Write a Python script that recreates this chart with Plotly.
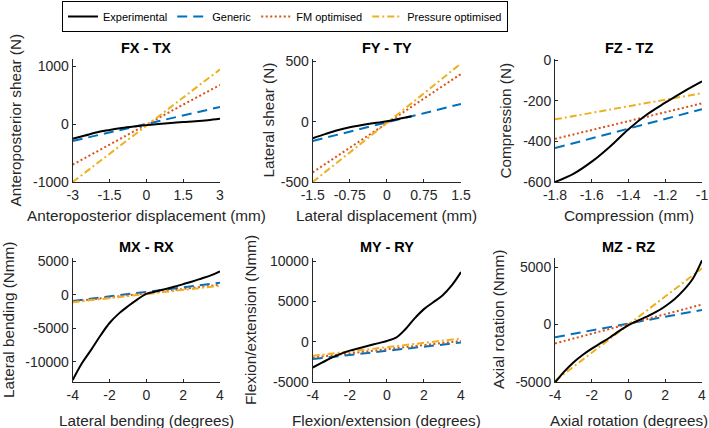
import plotly.graph_objects as go
from plotly.subplots import make_subplots

# --- data ---
fx_x = [-3, -2.5, -2, -1.5, -1, -0.5, 0, 0.5, 1, 1.5, 2, 2.5, 3]
fx_exp = [-250, -195, -140, -100, -65, -38, -15, 5, 22, 38, 52, 70, 95]
fx_lin_x = [-3, -1.5, 0, 1.5, 3]
fx_gen = [-290, -145, 0, 150, 300]
fx_fm = [-700, -350, -10, 340, 680]
fx_pr = [-1000, -510, -20, 470, 950]

fy_x = [-1.5, -1.25, -1, -0.75, -0.5, -0.25, 0, 0.25, 0.5]
fy_exp = [-137, -103, -71, -46, -27, -11, 3, 25, 45]
fy_lin_x = [-1.5, -0.75, 0, 0.75, 1.5]
fy_gen = [-160, -80, -5, 70, 148]
fy_fm = [-420, -215, -10, 195, 396]
fy_pr = [-500, -255, -15, 235, 483]

fz_x = [-1.8, -1.7, -1.6, -1.5, -1.4, -1.3, -1.2, -1.1, -1.0]
fz_exp = [-600, -560, -500, -425, -340, -268, -210, -155, -105]
fz_lin_x = [-1.8, -1.6, -1.4, -1.2, -1.0]
fz_gen = [-433, -385, -338, -290, -242]
fz_fm = [-388, -344, -300, -257, -213]
fz_pr = [-292, -260, -228, -195, -163]

m_x = [-4, -3.5, -3, -2.5, -2, -1.5, -1, -0.5, 0, 0.5, 1, 1.5, 2, 2.5, 3, 3.5, 4]
m_lin_x = [-4, 0, 4]

mx_exp = [-12700, -10200, -8200, -6100, -4200, -2800, -1700, -700, 150,
          500, 850, 1200, 1600, 2000, 2450, 2900, 3500]
mx_gen = [-900, 450, 1800]
mx_fm = [-1000, 250, 1500]
mx_pr = [-1100, 150, 1350]

my_exp = [-3200, -2600, -2000, -1500, -1100, -800, -500, -200, 100,
          500, 1550, 2900, 4050, 4900, 5750, 7000, 8650]
my_gen = [-2150, -1125, -100]
my_fm = [-1950, -925, 100]
my_pr = [-1750, -675, 400]

mz_exp = [-5050, -4100, -3300, -2650, -2100, -1600, -1100, -550, -50,
          350, 700, 1100, 1600, 2200, 3000, 4000, 5600]
mz_gen = [-1100, 90, 1280]
mz_fm = [-1640, 50, 1750]
mz_pr = [-4900, 0, 4900]

panels = [
    dict(title="FX - TX", xt="Anteroposterior displacement (mm)", yt="Anteroposterior shear (N)",
         x=fx_x, exp=fx_exp, lx=fx_lin_x, gen=fx_gen, fm=fx_fm, pr=fx_pr,
         xr=[-3, 3], yr=[-1000, 1130], xtv=[-3, -1.5, 0, 1.5, 3], ytv=[-1000, 0, 1000]),
    dict(title="FY - TY", xt="Lateral displacement (mm)", yt="Lateral shear (N)",
         x=fy_x, exp=fy_exp, lx=fy_lin_x, gen=fy_gen, fm=fy_fm, pr=fy_pr,
         xr=[-1.5, 1.5], yr=[-500, 520], xtv=[-1.5, -0.75, 0, 0.75, 1.5], ytv=[-500, 0, 500]),
    dict(title="FZ - TZ", xt="Compression (mm)", yt="Compression (N)",
         x=fz_x, exp=fz_exp, lx=fz_lin_x, gen=fz_gen, fm=fz_fm, pr=fz_pr,
         xr=[-1.8, -1], yr=[-600, 5], xtv=[-1.8, -1.6, -1.4, -1.2, -1], ytv=[-600, -400, -200, 0]),
    dict(title="MX - RX", xt="Lateral bending (degrees)", yt="Lateral bending (Nmm)",
         x=m_x, exp=mx_exp, lx=m_lin_x, gen=mx_gen, fm=mx_fm, pr=mx_pr,
         xr=[-4, 4], yr=[-13000, 5500], xtv=[-4, -2, 0, 2, 4], ytv=[-10000, -5000, 0, 5000]),
    dict(title="MY - RY", xt="Flexion/extension (degrees)", yt="Flexion/extension (Nmm)",
         x=m_x, exp=my_exp, lx=m_lin_x, gen=my_gen, fm=my_fm, pr=my_pr,
         xr=[-4, 4], yr=[-5000, 10400], xtv=[-4, -2, 0, 2, 4], ytv=[-5000, 0, 5000, 10000]),
    dict(title="MZ - RZ", xt="Axial rotation (degrees)", yt="Axial rotation (Nmm)",
         x=m_x, exp=mz_exp, lx=m_lin_x, gen=mz_gen, fm=mz_fm, pr=mz_pr,
         xr=[-4, 4], yr=[-5000, 5800], xtv=[-4, -2, 0, 2, 4], ytv=[-5000, 0, 5000]),
]

BLACK = "#000000"
BLUE = "#0072BD"
RED = "#D95319"
YELLOW = "#EDB120"
AX = "#262626"

W, H = 709, 428
# panel boxes in pixels (left, right) / (top, bottom)
x_doms = [(72.7, 220), (312.7, 461), (555, 702)]
y_doms = [(59, 182), (258, 382)]
ytitle_x = [15, 268, 505, 8, 250, 498]   # centre of rotated y titles
xtitle_y = [216, 420]                    # centre of x titles per row


def px(v):
    return v / W


def py(v):
    return 1 - v / H


fig = make_subplots(rows=2, cols=3)

for i, p in enumerate(panels):
    r, c = i // 3 + 1, i % 3 + 1
    first = i == 0
    fig.add_trace(go.Scatter(x=p["lx"], y=p["gen"], mode="lines", name="Generic",
                             line=dict(color=BLUE, width=2, dash="10px,6px"),
                             showlegend=first, legendrank=2), row=r, col=c)
    fig.add_trace(go.Scatter(x=p["lx"], y=p["fm"], mode="lines", name="FM optimised",
                             line=dict(color=RED, width=2, dash="2px,2.5px"),
                             showlegend=first, legendrank=3), row=r, col=c)
    fig.add_trace(go.Scatter(x=p["lx"], y=p["pr"], mode="lines", name="Pressure optimised",
                             line=dict(color=YELLOW, width=2, dash="7px,3px,2px,3px"),
                             showlegend=first, legendrank=4), row=r, col=c)
    fig.add_trace(go.Scatter(x=p["x"], y=p["exp"], mode="lines", name="Experimental",
                             line=dict(color=BLACK, width=2, shape="spline"),
                             showlegend=first, legendrank=1), row=r, col=c)

    x0, x1 = x_doms[c - 1]
    yt, yb = y_doms[r - 1]
    fig.update_xaxes(domain=[px(x0), px(x1)], range=p["xr"], tickvals=p["xtv"],
                     ticktext=[f"{v:g}" for v in p["xtv"]], row=r, col=c)
    fig.update_yaxes(domain=[py(yb), py(yt)], range=p["yr"], tickvals=p["ytv"],
                     ticktext=[f"{v:g}" for v in p["ytv"]], row=r, col=c)
    # panel title
    fig.add_annotation(text=f"<b>{p['title']}</b>", xref="paper", yref="paper",
                       x=px((x0 + x1) / 2), y=py(yt - 11), xanchor="center",
                       yanchor="middle", showarrow=False, font=dict(size=14.5, color=BLACK))
    # axis titles
    fig.add_annotation(text=p["xt"], xref="paper", yref="paper",
                       x=px((x0 + x1) / 2), y=py(xtitle_y[r - 1]), xanchor="center",
                       yanchor="middle", showarrow=False, font=dict(size=15.3, color=AX))
    fig.add_annotation(text=p["yt"], xref="paper", yref="paper", textangle=-90,
                       x=px(ytitle_x[i]), y=py((yt + yb) / 2), xanchor="center",
                       yanchor="middle", showarrow=False, font=dict(size=15.3, color=AX))

axis_style = dict(showline=True, linecolor=AX, linewidth=1, ticks="inside", ticklen=3,
                  tickcolor=AX, showgrid=False, zeroline=False, automargin=False,
                  tickfont=dict(size=14, color=AX))
fig.update_xaxes(**axis_style)
fig.update_yaxes(**axis_style)

fig.update_layout(
    width=W, height=H,
    margin=dict(l=0, r=0, t=0, b=0),
    paper_bgcolor="white", plot_bgcolor="white",
    font=dict(family="Liberation Sans, Arial, sans-serif", size=14, color=AX),
    legend=dict(orientation="h", x=px(285), xanchor="center", y=py(1), yanchor="top",
                bordercolor=BLACK, borderwidth=1, font=dict(size=11, color=BLACK),
                itemwidth=30, tracegroupgap=0),
)

# drop the default page margin so the figure sits at the window's corner
fig.write_html("out.html", config={"displayModeBar": False},
               post_script="document.body.style.margin='0';")
